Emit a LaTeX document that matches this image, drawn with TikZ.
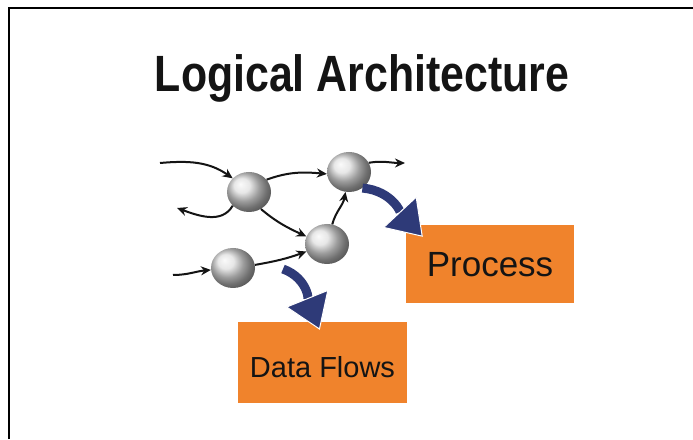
\documentclass[tikz,border=0pt]{standalone}
\usepackage{fontspec}
\setmainfont{Liberation Sans}
\newfontfamily\titlefont[FakeStretch=0.84]{Liberation Sans}
\usetikzlibrary{arrows.meta,shapes.geometric}
\definecolor{boxorange}{RGB}{240,131,44}
\definecolor{flownavy}{RGB}{46,58,120}
\definecolor{inkblack}{RGB}{20,20,20}
\tikzset{
  ball/.style={ellipse,minimum width=44pt,minimum height=40pt,inner sep=0pt,ball color=gray!25},
  flow/.style={inkblack,line width=2pt,-{Stealth[length=10pt,width=9pt]}},
  bigflow/.style={flownavy,line width=9pt,-{Triangle[length=34pt,width=46pt,fill=flownavy,color=white,line width=1pt]}},
  orangebox/.style={fill=boxorange,inner sep=0pt,text depth=0pt,text=inkblack}
}
\begin{document}
\begin{tikzpicture}[x=1pt,y=1pt]
    \useasboundingbox (0,0) rectangle (693,439);
    \fill[white] (0,0) rectangle (693,439);
    \draw[line width=2pt] (9,0) -- (9,431) -- (693,431);
    \node[anchor=base,text=inkblack] (title) at (362,347) {\titlefont\bfseries\fontsize{51}{57}\selectfont Logical Architecture};
    \node[ball] (s1) at (249,247) {};
    \node[ball] (s2) at (349,267) {};
    \node[ball] (s3) at (327,195) {};
    \node[ball] (s4) at (233,171) {};
    \node[orangebox,minimum width=168pt,minimum height=78pt,text height=26pt,font=\fontsize{35}{40}\selectfont] (proc) at (490,175) {Process};
    \node[orangebox,minimum width=169pt,minimum height=81pt,text height=31pt,font=\fontsize{29}{34}\selectfont] (data) at (322.5,76.5) {Data Flows};
    \coordinate (in1) at (160,276);
    \coordinate (out1) at (177,231);
    \coordinate (out2) at (405,276);
    \coordinate (in2) at (173,164);
    \coordinate (b2) at (283,170);
    \draw[flow] (in1) to[out=5,in=145] (s1.140);
    \draw[flow] (s1.-140) to[out=-120,in=-20] (out1);
    \draw[flow] (s1.35) to[out=20,in=175] (s2.185);
    \draw[flow] (s1.-55) to[out=-40,in=155] (s3.160);
    \draw[flow] (s3.75) to[out=75,in=-100] (s2.-100);
    \draw[flow] (s2.25) to[out=10,in=180] (out2);
    \draw[flow] (in2) to[out=0,in=185] (s4.185);
    \draw[flow] (s4.8) to[out=10,in=200] (s3.200);
    \draw[bigflow] (s2.-50) to[out=-5,in=133] ([shift={(17,-12)}]proc.north west);
    \draw[bigflow] (b2) to[out=-20,in=112] ([shift={(82,-8)}]data.north west);
\end{tikzpicture}
\end{document}
